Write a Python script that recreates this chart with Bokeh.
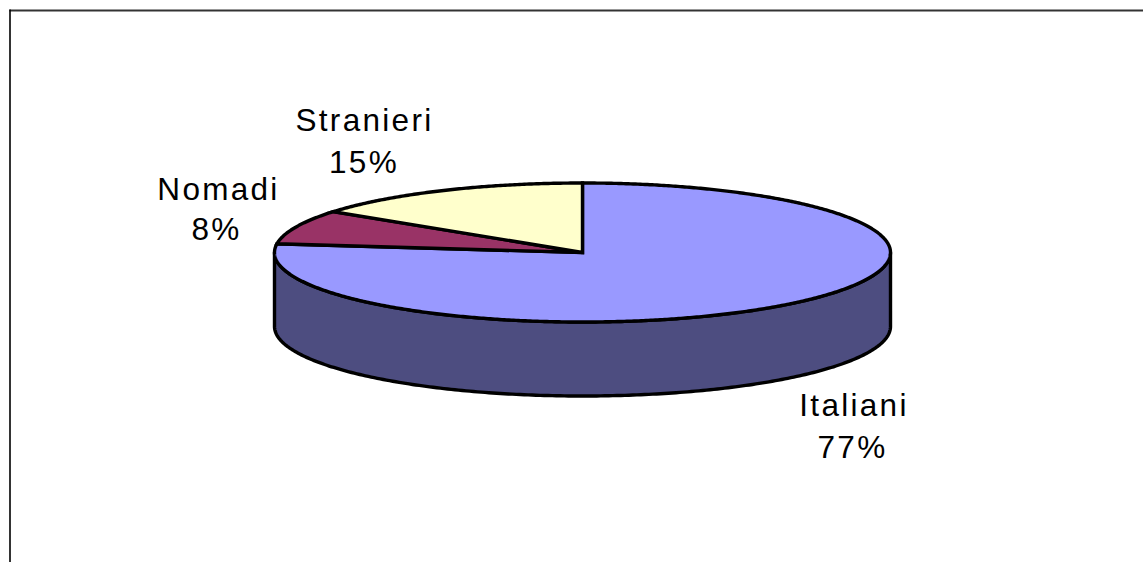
import numpy as np
from bokeh.plotting import figure
from bokeh.models import Range1d
from bokeh.core.properties import value
from bokeh.embed import file_html
from bokeh.resources import INLINE

categories = ["Italiani", "Nomadi", "Stranieri"]
shares = [77, 8, 15]
pct_labels = ["77%", "8%", "15%"]
colors = ["#9999FF", "#993366", "#FFFFCC"]
side_color = "#4D4D80"

name_x = [853.5, 218, 364]
pct_x = [852, 216, 363.5]
name_y = [415, 199, 130]
pct_y = [457, 239, 172]

CX, CY, RX, RY, DEPTH = 582.0, 252.0, 308.0, 69.5, 74.0
LW = 3.4
FONT_PX = 31.5
SPACING = 2.3
BASE_SHIFT = 11.0  # renderer draws alphabetic text lower than its anchor here

p = figure(width=1143, height=562, output_backend="svg", toolbar_location=None,
           x_range=Range1d(0, 1143), y_range=Range1d(562, 0), min_border=0,
           x_axis_location=None, y_axis_location=None, background_fill_color="white",
           border_fill_color="white", outline_line_color=None)
p.grid.visible = False

# chart frame, open towards the right and bottom as in the source
p.segment(x0=[9, 9.5], y0=[10, 9], x1=[1143, 9.5], y1=[10, 562],
          line_color=["#333333", "#000000"], line_width=[2, 1.6])

def ell(t, dy=0.0):
    return CX + RX * np.cos(t), CY - RY * np.sin(t) + dy

# side wall
t = np.linspace(np.pi, 2 * np.pi, 240)
x0, y0 = ell(t)
x1, y1 = ell(t[::-1], DEPTH)
p.patch(np.r_[x0, x1], np.r_[y0, y1], fill_color=side_color, line_color="black",
        line_width=LW, line_join="round")

# top slices, clockwise from twelve o'clock
start = np.pi / 2
total = sum(shares)
for v, c in zip(shares, colors):
    stop = start - 2 * np.pi * v / total
    a = np.linspace(start, stop, max(int(v * 8), 24))
    xs, ys = ell(a)
    p.patch(np.r_[CX, xs], np.r_[CY, ys], fill_color=c, line_color="black",
            line_width=LW, line_join="miter")
    start = stop

font = value("Liberation Sans")
size = value(f"{FONT_PX}px")
def put(xs, ys, labels):
    # Bokeh centres on the width without the page's letter-spacing: compensate
    px = [x - len(s) * SPACING / 2 for x, s in zip(xs, labels)]
    py = [y - BASE_SHIFT for y in ys]
    p.text(x=px, y=py, text=labels, text_font=font, text_font_size=size,
           text_align="center", text_baseline="alphabetic", text_color="black")
put(name_x, name_y, categories)
put(pct_x, pct_y, pct_labels)

html = file_html(p, INLINE)
html = html.replace("<head>", f"<head><style>html,body{{letter-spacing:{SPACING}px}}</style>", 1)
open("out.html", "w").write(html)
